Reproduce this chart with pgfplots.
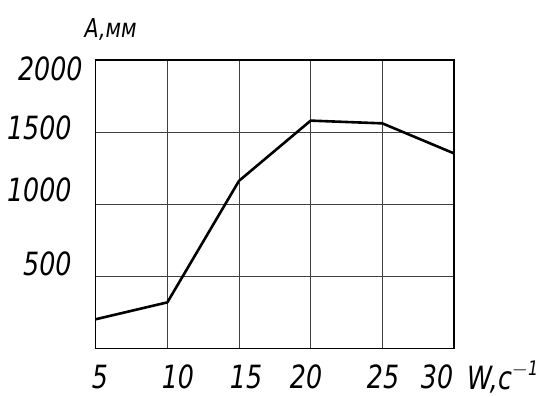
\documentclass[border=0pt]{standalone}
\usepackage{fontspec}
\setmainfont{DejaVu Sans Condensed}[FakeStretch=0.88]
\usepackage{pgfplots}
\pgfplotsset{compat=1.18}
\begin{document}
\begin{tikzpicture}[x=1pt,y=1pt]
\begin{axis}[
 at={(0,0)}, anchor=south west,
 scale only axis, width=358.3pt, height=288.7pt,
 xmin=5, xmax=30, ymin=0, ymax=2000,
 xtick={5,10,...,30}, ytick={500,1000,1500,2000},
 xticklabels={},
 yticklabels={,,,2000},
 grid=major, grid style={black!75, line width=0.9pt},
 axis line style={black, line width=1.2pt},
 tick style={draw=none},
 /pgf/number format/assume math mode=true,
 /pgf/number format/1000 sep={},
 ticklabel style={font=\fontsize{32}{32}\selectfont\itshape},
 xticklabel style={yshift=-13pt},
 yticklabel style={xshift=-9.6pt, yshift=-8.5pt},
 extra x ticks={5.3,10.74,15.49,19.68,25.05,28.82},
 extra x tick labels={5,10,15,20,25,30},
 extra y ticks={1529,1098,586},
 extra y tick labels={1500,1000,500},
 extra x tick style={grid=none},
 extra y tick style={grid=none, yticklabel style={xshift=-11pt, yshift=8.5pt}},
 clip=false,
]
\addplot[black, line width=2.6pt, line join=round] coordinates {(5,204)(10,321)(15,1163)(20,1580)(25,1561)(30,1353)};
\node[anchor=base west, inner sep=0pt, font=\fontsize{32}{32}\selectfont\itshape] at (rel axis cs:1,0) [xshift=13pt, yshift=-41pt] {W,c\raisebox{14pt}{\fontsize{20}{20}\selectfont$-$1}};
\node[anchor=base, inner sep=0pt, font=\fontsize{26}{26}\selectfont\itshape] at (rel axis cs:0,1) [xshift=15pt, yshift=22pt] {A,мм};
\end{axis}
\pgfresetboundingbox
\useasboundingbox (-95.7,-47.3) rectangle (447.3,348.7);
\end{tikzpicture}
\end{document}
